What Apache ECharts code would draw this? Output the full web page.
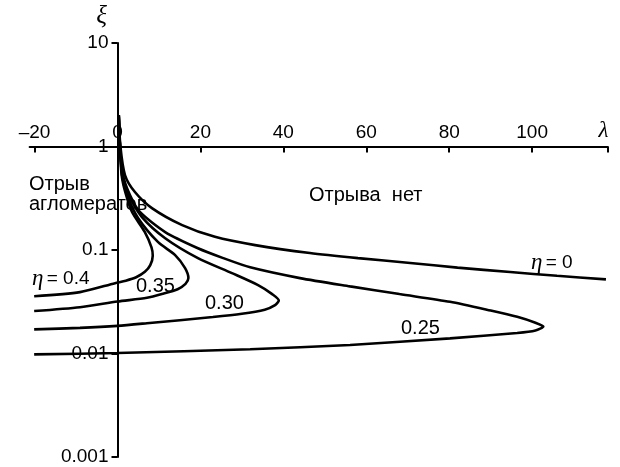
<!DOCTYPE html>
<html><head><meta charset="utf-8">
<script src="https://cdn.jsdelivr.net/npm/echarts@6/dist/echarts.min.js"></script>
<style>html,body{margin:0;padding:0;background:#fff}#c{width:620px;height:467px}</style>
</head><body><div id="c"></div>
<script>
// ---- data ----
const xTickValues = [-20, 0, 20, 40, 60, 80, 100];
const xEndValue = 118.2;            // position of the λ mark
const xRange = [-21.2, 118.2];
const yRange = [0.001, 10];
const yTickLabels = ['0.001', '0.01', '0.1', '1', '10'];

const eta0 = [[0.3,2.0],[0.7,1.0],[1.8,0.53],[4.2,0.363],[8.3,0.254],[15.6,0.174],[23.5,0.134],[33.2,0.1115],[46.4,0.0935],[58,0.0835],[70.6,0.075],[82,0.0675],[94.7,0.0612],[106,0.0563],[117.8,0.052]];
const eta025 = [[0.3,2.0],[0.6,1.0],[1.3,0.53],[3.0,0.34],[5.4,0.233],[11.5,0.149],[19.4,0.104],[25.5,0.0835],[32,0.068],[44.0,0.0535],[56.1,0.0445],[68,0.0375],[80.2,0.0316],[90,0.026],[96.4,0.0226],[100.8,0.0198],[102.7,0.0182],[100.8,0.0167],[96.4,0.0158],[80.2,0.0140],[56.1,0.0121],[32,0.0110],[0,0.0101],[-20.1,0.0098]];
const eta030 = [[0.3,2.0],[0.6,1.0],[1.2,0.53],[2.7,0.34],[5.9,0.208],[11.5,0.130],[19.4,0.0835],[27.6,0.0598],[33.9,0.0458],[37.3,0.0375],[38.9,0.0325],[38.0,0.0293],[35.5,0.0265],[30,0.0242],[23.0,0.0225],[7.1,0.0196],[0,0.0185],[-9.05,0.0177],[-20.1,0.0171]];
const eta035 = [[0.3,2.0],[0.6,1.0],[1.1,0.53],[2.3,0.34],[4.95,0.204],[9.8,0.119],[13.9,0.0893],[16.3,0.0668],[17.1,0.0535],[16.4,0.047],[14.5,0.0418],[11,0.0378],[7.1,0.0345],[0,0.0318],[-9.05,0.028],[-20.1,0.0257]];
const eta040 = [[0.3,2.0],[0.6,1.0],[1.0,0.53],[1.9,0.36],[3.5,0.233],[6.6,0.149],[8.2,0.106],[8.5,0.088],[7.9,0.0715],[6.6,0.0615],[4.5,0.0545],[2.0,0.0505],[-0.6,0.0478],[-9.05,0.0392],[-20.1,0.0358]];

// ---- layout ----
const W = 620, H = 467;
const G = {left: 29.6, right: 12.4, top: 43, bottom: 10};
const gridW = W - G.left - G.right, gridH = H - G.top - G.bottom;
const yAxisOffset = -(0 - xRange[0]) / (xRange[1] - xRange[0]) * gridW;
const xAxisOffset = -(Math.log10(yRange[1]) - Math.log10(1)) /
  (Math.log10(yRange[1]) - Math.log10(yRange[0])) * gridH;

const SANS = 'Liberation Sans, Arial, Helvetica, sans-serif';
const SERIF = 'Liberation Serif, DejaVu Serif, serif';

const chart = echarts.init(document.getElementById('c'), null, {renderer: 'canvas'});
const mkLine = (name, data) => ({
  name, type: 'line', data, showSymbol: false, smooth: 0.25, clip: false,
  lineStyle: {color: '#000', width: 2.6}, z: 3, silent: true
});
const txt = (left, top, text, extra) => ({
  type: 'text', left, top, z: 10,
  style: Object.assign({text, font: '20px ' + SANS, fill: '#000'}, extra || {})
});
const etaRich = {e: {fontFamily: SERIF, fontStyle: 'italic', fontSize: 23, fill: '#000'},
                 n: {fontFamily: SANS, fontSize: 19, fill: '#000'}};

chart.setOption({
  animation: false,
  backgroundColor: '#fff',
  grid: {left: G.left, right: G.right, top: G.top, bottom: G.bottom, containLabel: false},
  xAxis: {
    type: 'value', min: xRange[0], max: xRange[1], position: 'top', offset: xAxisOffset,
    axisLine: {onZero: false, lineStyle: {color: '#000', width: 2}},
    axisTick: {inside: true, length: 6, lineStyle: {color: '#000', width: 2},
               customValues: xTickValues.concat([xEndValue])},
    axisLabel: {margin: 4, color: '#000', fontFamily: SANS, fontSize: 19,
                customValues: xTickValues.concat([xEndValue]),
                formatter: v => (Math.abs(v - xEndValue) < 1e-6 ? '{l|λ}' : String(v).replace('-', '\u2013')),
                rich: {l: {fontFamily: SERIF, fontStyle: 'italic', fontSize: 23, color: '#000', padding: [0, 8, 0, 0]}}},
    splitLine: {show: false}
  },
  yAxis: {
    type: 'log', logBase: 10, min: yRange[0], max: yRange[1], position: 'left', offset: yAxisOffset,
    name: 'ξ', nameLocation: 'end', nameGap: 14,
    nameTextStyle: {fontFamily: SERIF, fontStyle: 'italic', fontSize: 25, color: '#000', padding: [0, 32, 0, 0]},
    axisLine: {onZero: false, lineStyle: {color: '#000', width: 2}},
    axisTick: {length: 6, lineStyle: {color: '#000', width: 2}},
    axisLabel: {margin: 9, color: '#000', fontFamily: SANS, fontSize: 19,
                formatter: v => yTickLabels[Math.round(Math.log10(v)) - Math.round(Math.log10(yRange[0]))]},
    splitLine: {show: false}, minorTick: {show: false}
  },
  series: [mkLine('η = 0', eta0), mkLine('0.25', eta025), mkLine('0.30', eta030),
           mkLine('0.35', eta035), mkLine('η = 0.4', eta040)],
  graphic: [
    txt(29, 174, 'Отрыв\nагломератов', {lineHeight: 20}),
    txt(309, 185, 'Отрыва  нет'),
    {type: 'text', left: 531, top: 251, z: 10,
     style: {text: '{e|η} {n|= 0}', rich: etaRich, fill: '#000'}},
    {type: 'text', left: 32, top: 267, z: 10,
     style: {text: '{e|η} {n|= 0.4}', rich: etaRich, fill: '#000'}},
    txt(136, 276, '0.35'),
    txt(205, 293, '0.30'),
    txt(401, 318, '0.25')
  ]
});
</script></body></html>
